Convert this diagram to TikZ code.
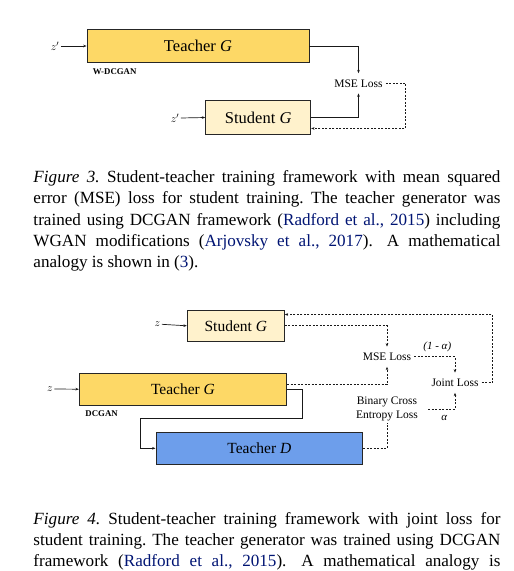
\documentclass[tikz,border=0pt]{standalone}
\usepackage{fontspec}
\setmainfont{Liberation Serif}
\usetikzlibrary{arrows.meta, positioning, calc}
\definecolor{teacherGold}{RGB}{253,216,102}
\definecolor{studentCream}{RGB}{255,242,204}
\definecolor{discBlue}{RGB}{109,158,235}
\definecolor{boxEdge}{gray}{0.15}
\definecolor{lineBlack}{gray}{0.1}
\definecolor{citeBlue}{RGB}{0,20,115}
\newcommand{\citeref}[1]{\textcolor{citeBlue}{#1}}
\newcommand{\capfont}{\fontsize{17.1}{21.25}\selectfont\frenchspacing\hyphenpenalty=10000\relax\tolerance=9999\relax}

\begin{document}
\begin{tikzpicture}[x=1pt, y=-1pt, >={Stealth[length=3.4pt,width=2.6pt]},
    netbox/.style={draw=boxEdge, line width=0.9pt, inner sep=0pt},
    bigtext/.style={font=\fontsize{16.5}{18}\selectfont},
    midtext/.style={font=\fontsize{15.5}{17}\selectfont},
    lossnode/.style={inner xsep=3pt, inner ysep=6pt, align=center, font=\fontsize{11.5}{13.7}\selectfont},
    weightlabel/.style={inner sep=0pt, font=\fontsize{11}{13}\selectfont\itshape},
    noiselabel/.style={inner sep=1.5pt, font=\fontsize{11}{13}\selectfont},
    tagtext/.style={inner sep=0pt, anchor=west, font=\fontsize{8.8}{10}\selectfont\bfseries},
    conn/.style={->, line width=0.7pt, lineBlack},
    dashline/.style={line width=0.7pt, lineBlack, dash pattern=on 2pt off 1.5pt},
    dashconn/.style={dashline, ->},
    captiontext/.style={inner sep=0pt, anchor=base west, text width=467pt, align=justify, font=\capfont}]
    \useasboundingbox (0,0) rectangle (514,571);

    % Figure 3
    \node[netbox, bigtext, fill=teacherGold, minimum width=222pt, minimum height=33pt] (teacherG3) at (198,46) {Teacher \textit{G}};
    \node[noiselabel] (zA) at (55,46) {$z'$};
    \draw[conn] (zA.east) -- (teacherG3.west);
    \node[tagtext] (wdcgan) at ([xshift=6pt,yshift=-9pt]teacherG3.south west) {W-DCGAN};

    \node[netbox, bigtext, fill=studentCream, minimum width=105pt, minimum height=33.6pt] (studentG3) at (258.2,117.5) {Student \textit{G}};
    \node[noiselabel] (zB) at (175,118) {$z'$};
    \draw[conn] (zB.east) -- (studentG3.west);

    \node[lossnode] (mse3) at (358.5,83.3) {MSE Loss};
    \draw[conn] (teacherG3.east) -| (mse3.north);
    \draw[conn] (studentG3.east) -| (mse3.south);
    \draw[dashconn] (mse3.east) -- ++(20,0) |- ([yshift=6.3pt]studentG3.south east);

    % Figure 4
    \node[netbox, midtext, fill=studentCream, minimum width=97pt, minimum height=31.7pt] (studentG4) at (235.8,325.8) {Student \textit{G}};
    \node[noiselabel] (zC) at (157.3,324.3) {$z$};
    \draw[conn] (zC.east) -- (studentG4.west);

    \node[netbox, midtext, fill=teacherGold, minimum width=207.4pt, minimum height=31.7pt] (teacherG4) at (183,389.2) {Teacher \textit{G}};
    \node[noiselabel] (zD) at (50,389) {$z$};
    \draw[conn] (zD.east) -- (teacherG4.west);
    \node[tagtext] (dcgan) at ([xshift=6.4pt,yshift=-7.7pt]teacherG4.south west) {DCGAN};

    \node[netbox, midtext, fill=discBlue, minimum width=206.7pt, minimum height=31.3pt] (teacherD4) at (259.3,448.3) {Teacher \textit{D}};
    \draw[conn] (teacherG4.east) -- ++(15,0) -- ++(0,29) -| ([xshift=-15pt]teacherD4.west) -- (teacherD4.west);

    % Losses
    \node[lossnode] (mse4) at (387,356.7) {MSE Loss};
    \node[lossnode] (joint4) at (455,382.7) {Joint Loss};
    \node[lossnode, inner ysep=2pt] (bce4) at (387,409) {Binary Cross\\Entropy Loss};
    \node[weightlabel] (oneMinusAlpha) at (437.3,346.7) {(1 - α)};
    \node[weightlabel] (alphaW) at (444.3,417.7) {α};

    \draw[dashconn] (studentG4.east) -| (mse4.north);
    \draw[dashconn] ([yshift=5pt]teacherG4.east) -| (mse4.south);
    \draw[dashline] (teacherD4.east) -| (bce4.south);
    \draw[dashconn] (mse4.east) -| (joint4.north);
    \draw[dashconn] ([xshift=7pt]bce4.east) -| (joint4.south);
    \draw[dashconn] (joint4.east) -- ++(11,0) |- ([yshift=-5pt]studentG4.north east);

    % Captions
    \node[captiontext] (caption3) at (33.3,182.5) {\textit{Figure 3.} Student-teacher training framework with mean squared\linebreak
        error (MSE) loss for student training. The teacher generator was\linebreak
        trained using DCGAN framework (\citeref{Radford et al., 2015}) including\linebreak
        WGAN modifications (\citeref{Arjovsky et al., 2017}).\hspace{0.3em} A mathematical\linebreak
        analogy is shown in (\citeref{3}).};
    \node[captiontext] (caption4) at (33.3,524) {\textit{Figure 4.} Student-teacher training framework with joint loss for\linebreak
        student training. The teacher generator was trained using DCGAN\linebreak
        framework (\citeref{Radford et al., 2015}).\hspace{0.3em} A mathematical analogy is\parfillskip=0pt\relax\par};
\end{tikzpicture}
\end{document}
